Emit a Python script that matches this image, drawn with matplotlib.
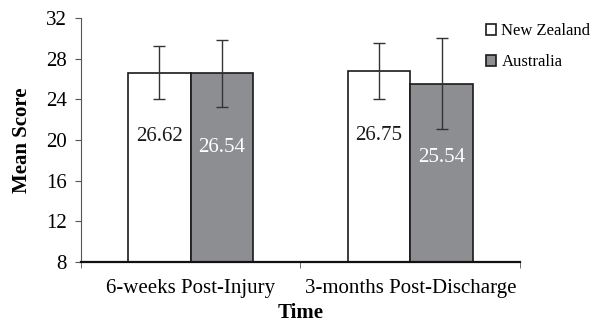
import matplotlib.pyplot as plt
import numpy as np

plt.rcParams['font.family'] = ['Liberation Serif', 'DejaVu Serif']

categories = ['6-weeks Post-Injury', '3-months Post-Discharge']
nz_means = [26.62, 26.75]
au_means = [26.54, 25.54]
nz_err = [2.6, 2.75]
au_err = [3.25, 4.45]


def main():
    fig = plt.figure(figsize=(5.95, 3.26), dpi=100)
    ax = fig.add_axes([0.136, 0.196, 0.738, 0.749])
    x = np.arange(len(categories))
    w = 0.285

    ax.bar(x - w / 2, nz_means, w, color='white', edgecolor='#1a1a1a',
           linewidth=1.2, label='New Zealand', zorder=2)
    ax.bar(x + w / 2, au_means, w, color='#8d8e91', edgecolor='#1a1a1a',
           linewidth=1.2, label='Australia', zorder=2)
    ax.errorbar(x - w / 2, nz_means, yerr=nz_err, fmt='none', ecolor='#333333',
                elinewidth=1, capsize=4, capthick=1, zorder=3)
    ax.errorbar(x + w / 2, au_means, yerr=au_err, fmt='none', ecolor='#333333',
                elinewidth=1, capsize=4, capthick=1, zorder=3)

    for i in range(len(categories)):
        ax.text(x[i] - w / 2, nz_means[i] - 6.3, '%.2f' % nz_means[i],
                ha='center', va='center', fontsize=15, color='#1a1a1a', zorder=4)
        ax.text(x[i] + w / 2, au_means[i] - 7.3, '%.2f' % au_means[i],
                ha='center', va='center', fontsize=15, color='white', zorder=4)

    ax.set_ylim(8, 32)
    ax.set_yticks(np.arange(8, 33, 4))
    ax.set_xlim(-0.5, 1.5)
    ax.set_xticks(x)
    ax.set_xticklabels(categories, fontsize=15)
    ax.set_xticks([-0.5, 0.5, 1.5], minor=True)
    ax.tick_params(axis='x', which='major', length=0, pad=12)
    ax.tick_params(axis='x', which='minor', length=4, color='#555555')
    ax.tick_params(axis='y', labelsize=15, length=4, color='#555555', pad=6)

    ax.spines['top'].set_visible(False)
    ax.spines['right'].set_visible(False)
    ax.spines['left'].set_color('#555555')
    ax.spines['left'].set_linewidth(0.8)
    ax.spines['bottom'].set_color('#111111')
    ax.spines['bottom'].set_linewidth(1.6)

    ax.set_ylabel('Mean Score', fontsize=15, fontweight='bold', labelpad=10)
    ax.set_xlabel('Time', fontsize=15, fontweight='bold', labelpad=4)

    fig.legend(loc='upper left', bbox_to_anchor=(0.805, 0.95), frameon=False,
               fontsize=12, handlelength=0.65, handleheight=0.65, handletextpad=0.3,
               labelspacing=0.9, borderaxespad=0)

    fig.savefig('out.png', dpi=100)


if __name__ == '__main__':
    main()
